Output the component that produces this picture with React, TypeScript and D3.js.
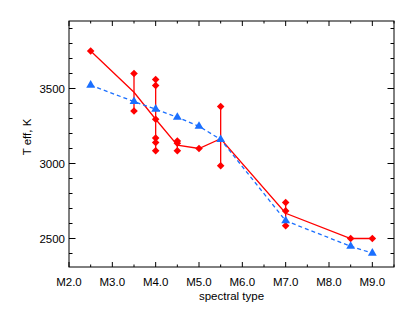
import * as d3 from "d3";
import { useEffect, useRef } from "react";

// spectral subtype (M2.0 = 2) and measured Teff per star (red diamonds)
const redGroups = [
  { sp: 2.5, teff: [3750] },
  { sp: 3.5, teff: [3600, 3350] },
  { sp: 4.0, teff: [3560, 3520, 3295, 3170, 3140, 3085] },
  { sp: 4.5, teff: [3150, 3135, 3085] },
  { sp: 5.0, teff: [3100] },
  { sp: 5.5, teff: [3380, 2985] },
  { sp: 7.0, teff: [2740, 2684, 2585] },
  { sp: 8.5, teff: [2500] },
  { sp: 9.0, teff: [2500] },
];
// red line passes through group means
const redMeanSp = [2.5, 3.5, 4.0, 4.5, 5.0, 5.5, 7.0, 8.5, 9.0];
const redMeanTeff = [3750, 3475, 3295, 3123, 3100, 3165, 2668, 2500, 2500];

// blue triangles, dashed line
const blueSp = [2.5, 3.5, 4.0, 4.5, 5.0, 5.5, 7.0, 8.5, 9.0];
const blueTeff = [3522, 3413, 3362, 3308, 3248, 3160, 2618, 2448, 2402];

const xTicks = [2, 3, 4, 5, 6, 7, 8, 9];
const yTicks = [2500, 3000, 3500];

export default function App() {
  const ref = useRef<SVGSVGElement>(null);

  useEffect(() => {
    const svg = d3.select(ref.current);
    svg.selectAll("*").remove();

    const left = 69, right = 394, top = 21, bottom = 267;
    const x = d3.scaleLinear().domain([2, 9.5]).range([left, right]);
    const y = d3.scaleLinear().domain([2310, 3950]).range([bottom, top]);
    const font = "'Liberation Sans', Arial, sans-serif";

    // frame
    svg.append("rect")
      .attr("x", left).attr("y", top)
      .attr("width", right - left).attr("height", bottom - top)
      .attr("fill", "none").attr("stroke", "#000").attr("stroke-width", 1);

    const ax = svg.append("g").attr("stroke", "#000").attr("stroke-width", 1);
    // x ticks, bottom and top
    d3.range(2, 9.51, 0.5).forEach(v => {
      const major = Math.abs(v - Math.round(v)) < 1e-6;
      const len = major ? 5 : 2.5;
      const px = x(v);
      ax.append("line").attr("x1", px).attr("x2", px).attr("y1", bottom).attr("y2", bottom - len);
      ax.append("line").attr("x1", px).attr("x2", px).attr("y1", top).attr("y2", top + len);
    });
    // y ticks, left and right
    d3.range(2400, 3951, 100).forEach(v => {
      const major = v % 500 === 0;
      const len = major ? 6.5 : 3.5;
      const py = y(v);
      ax.append("line").attr("x1", left).attr("x2", left + len).attr("y1", py).attr("y2", py);
      ax.append("line").attr("x1", right).attr("x2", right - len).attr("y1", py).attr("y2", py);
    });

    svg.append("g").selectAll("text").data(xTicks).enter().append("text")
      .attr("x", d => x(d)).attr("y", 286)
      .attr("text-anchor", "middle")
      .style("font-family", font).style("font-size", "11.5px")
      .text(d => `M${d.toFixed(1)}`);

    svg.append("g").selectAll("text").data(yTicks).enter().append("text")
      .attr("x", 65).attr("y", d => y(d) + 4)
      .attr("text-anchor", "end")
      .style("font-family", font).style("font-size", "11.5px")
      .text(d => d);

    svg.append("text")
      .attr("x", (left + right) / 2).attr("y", 300)
      .attr("text-anchor", "middle")
      .style("font-family", font).style("font-size", "11.5px")
      .text("spectral type");

    svg.append("text")
      .attr("transform", "translate(31,137) rotate(-90)")
      .attr("text-anchor", "middle")
      .style("font-family", font).style("font-size", "11.5px")
      .text("T eff, K");

    const red = "#ff0000", blue = "#1a6fff";

    // red: vertical ranges
    svg.append("g").selectAll("line").data(redGroups.filter(g => g.teff.length > 1)).enter().append("line")
      .attr("x1", d => x(d.sp)).attr("x2", d => x(d.sp))
      .attr("y1", d => y(d3.max(d.teff)!)).attr("y2", d => y(d3.min(d.teff)!))
      .attr("stroke", red).attr("stroke-width", 1.3);

    const line = d3.line<[number, number]>().x(d => x(d[0])).y(d => y(d[1]));
    svg.append("path")
      .attr("d", line(redMeanSp.map((s, i) => [s, redMeanTeff[i]]))!)
      .attr("fill", "none").attr("stroke", red).attr("stroke-width", 1.3);

    const diamonds = redGroups.flatMap(g => g.teff.map(t => [g.sp, t] as [number, number]));
    const dr = 3.8;
    svg.append("g").selectAll("path").data(diamonds).enter().append("path")
      .attr("d", `M0,${-dr}L${dr},0L0,${dr}L${-dr},0Z`)
      .attr("transform", d => `translate(${x(d[0])},${y(d[1])})`)
      .attr("fill", red);

    // blue dashed line with triangles
    svg.append("path")
      .attr("d", line(blueSp.map((s, i) => [s, blueTeff[i]]))!)
      .attr("fill", "none").attr("stroke", blue).attr("stroke-width", 1.3)
      .attr("stroke-dasharray", "4,3");

    svg.append("g").selectAll("path").data(blueSp.map((s, i) => [s, blueTeff[i]])).enter().append("path")
      .attr("d", d3.symbol(d3.symbolTriangle, 34)()!)
      .attr("transform", d => `translate(${x(d[0])},${y(d[1])})`)
      .attr("fill", blue);
  }, []);

  return (
    <svg ref={ref} width={415} height={312}
      style={{ position: "absolute", left: 0, top: 0, background: "#fff" }} />
  );
}
